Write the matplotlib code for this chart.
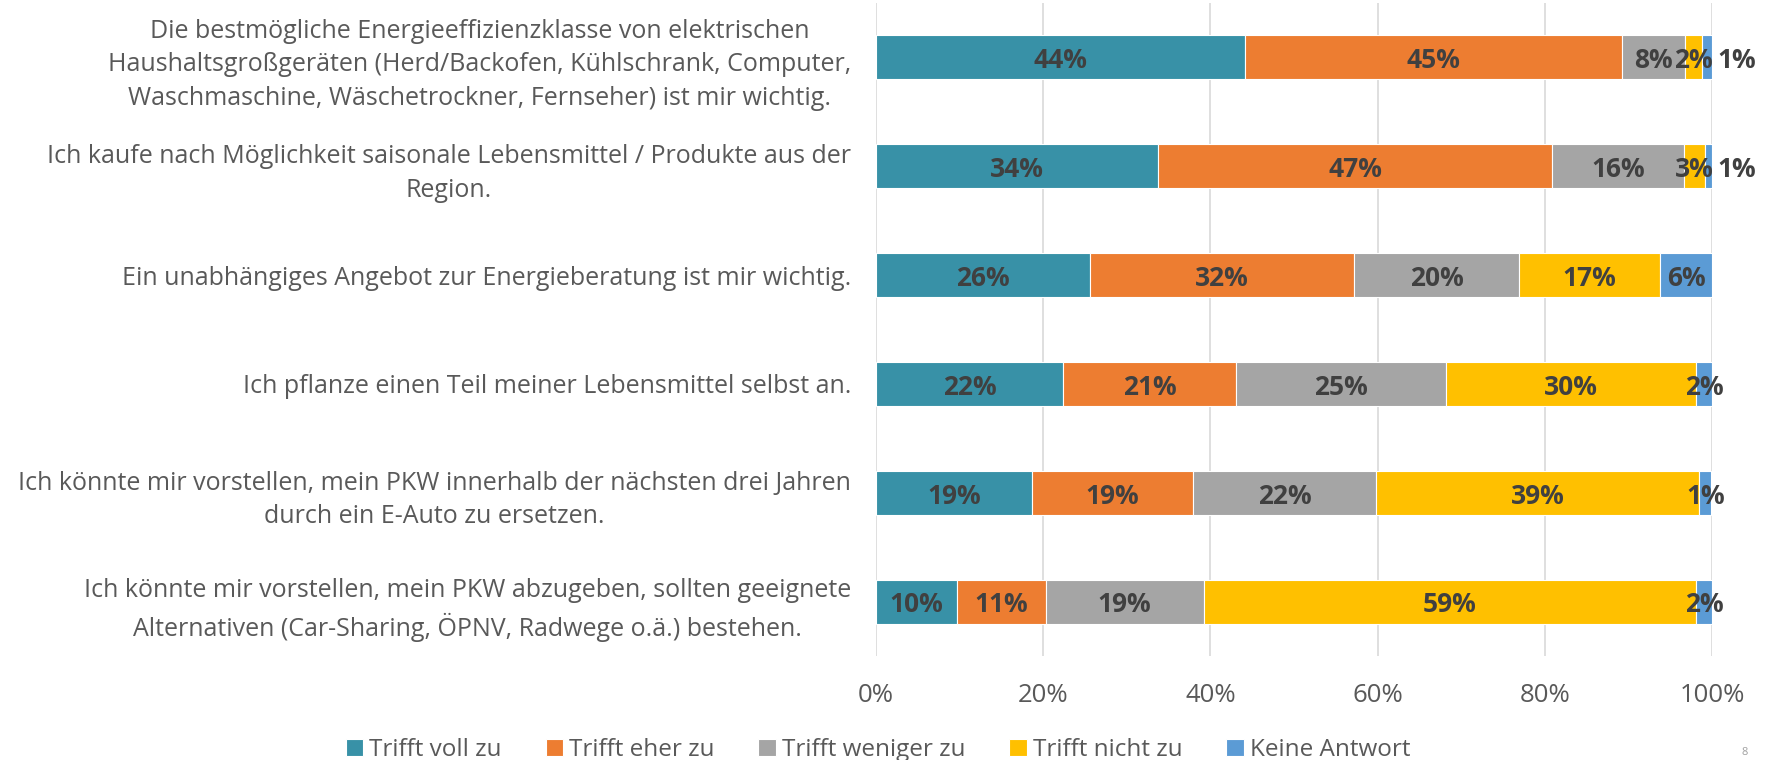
import matplotlib
matplotlib.use("Agg")
import matplotlib.pyplot as plt
import numpy as np

categories = [
    "Die bestmögliche Energieeffizienzklasse von elektrischen\nHaushaltsgroßgeräten (Herd/Backofen, Kühlschrank, Computer,\nWaschmaschine, Wäschetrockner, Fernseher) ist mir wichtig.",
    "Ich kaufe nach Möglichkeit saisonale Lebensmittel / Produkte aus der\nRegion.",
    "Ein unabhängiges Angebot zur Energieberatung ist mir wichtig.",
    "Ich pflanze einen Teil meiner Lebensmittel selbst an.",
    "Ich könnte mir vorstellen, mein PKW innerhalb der nächsten drei Jahren\ndurch ein E-Auto zu ersetzen.",
    "Ich könnte mir vorstellen, mein PKW abzugeben, sollten geeignete\nAlternativen (Car-Sharing, ÖPNV, Radwege o.ä.) bestehen.",
]
series_names = ["Trifft voll zu", "Trifft eher zu", "Trifft weniger zu", "Trifft nicht zu", "Keine Antwort"]
trifft_voll_zu    = [44.1, 33.7, 25.6, 22.4, 18.7,  9.7]
trifft_eher_zu    = [45.1, 47.2, 31.6, 20.7, 19.2, 10.6]
trifft_weniger_zu = [ 7.6, 15.7, 19.7, 25.1, 21.9, 18.9]
trifft_nicht_zu   = [ 2.0,  2.6, 16.9, 29.9, 38.7, 58.9]
keine_antwort     = [ 1.2,  0.8,  6.2,  1.9,  1.4,  1.9]
tick_labels = ["0%", "20%", "40%", "60%", "80%", "100%"]

colors = ["#3891A7", "#ED7D31", "#A5A5A5", "#FFC000", "#5B9BD5"]
outside_labels = {(0, 4), (1, 4)}

plt.rcParams['font.family'] = ['Open Sans', 'DejaVu Sans']

fig = plt.figure(figsize=(17.73, 7.60), dpi=100)
ax = fig.add_axes([876/1773, 1-656/760, (1712-876)/1773, (656-3)/760])

data = [trifft_voll_zu, trifft_eher_zu, trifft_weniger_zu, trifft_nicht_zu, keine_antwort]
y = np.arange(len(categories))
left = np.zeros(len(categories))
for si, (vals, col, name) in enumerate(zip(data, colors, series_names)):
    vals = np.array(vals)
    ax.barh(y, vals, left=left, height=0.405, color=col, edgecolor="white",
            linewidth=0.8, label=name, zorder=3)
    for ri, v in enumerate(vals):
        txt = f"{int(round(v))}%"
        if (ri, si) in outside_labels:
            xx = 100 + 3.0
        else:
            xx = left[ri] + v / 2
        ax.text(xx, ri + 0.03, txt, ha="center", va="center", fontsize=19,
                fontweight="bold", color="#404040", zorder=4)
    left += vals

ax.set_xlim(0, 100)
ax.set_ylim(len(categories) - 0.5, -0.5)
ax.set_xticks(np.arange(0, 101, 20))
ax.set_xticklabels(tick_labels, fontsize=18.5, color="#595959")
ax.set_yticks(y)
ax.set_yticklabels(categories, fontsize=18, color="#595959", multialignment="center",
                   linespacing=1.45)
ax.tick_params(axis="both", length=0)
ax.tick_params(axis="x", pad=19.5)
ax.tick_params(axis="y", pad=18)
ax.grid(axis="x", color="#D9D9D9", linewidth=1.2, zorder=0)
for s in ax.spines.values():
    s.set_visible(False)

fig.legend(loc="center", bbox_to_anchor=(878/1773, 1-750/760), ncol=5, frameon=False,
           fontsize=17.5, handlelength=0.72, handleheight=0.72, handletextpad=0.25,
           columnspacing=1.8, labelcolor="#595959")

fig.text(1745/1773, 0.002, "8", fontsize=8, color="#A0A0A0", ha="center", va="bottom")

fig.savefig("out.png", dpi=100)
